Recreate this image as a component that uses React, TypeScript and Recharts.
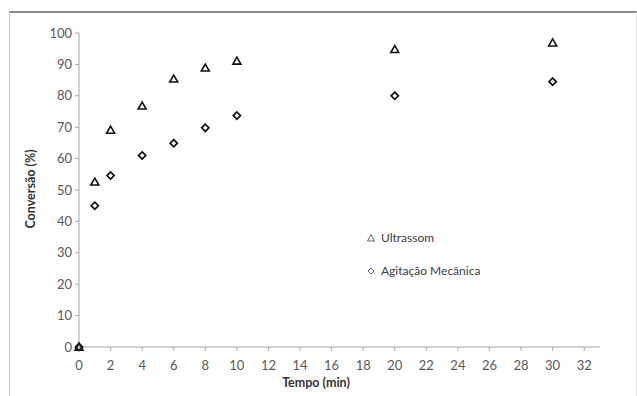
import { Legend, Scatter, ScatterChart, XAxis, YAxis } from "recharts";

const tempo = [0, 1, 2, 4, 6, 8, 10, 20, 30];
const ultrassom = [0, 52.6, 69.1, 76.8, 85.4, 88.9, 91.1, 94.8, 96.9];
const agitacao = [0, 45.0, 54.6, 61.0, 64.9, 69.8, 73.7, 80.0, 84.5];
const seriesNames = ["Ultrassom", "Agitação Mecânica"];
const xTicks = [0, 2, 4, 6, 8, 10, 12, 14, 16, 18, 20, 22, 24, 26, 28, 30, 32];
const yTicks = [0, 10, 20, 30, 40, 50, 60, 70, 80, 90, 100];

const ultraData = tempo.map((t, i) => ({ x: t, y: ultrassom[i] }));
const agitData = tempo.map((t, i) => ({ x: t, y: agitacao[i] }));

const FONT = "Lato, 'Open Sans', sans-serif";
const AXIS = "#a6a6a6";

function Triangle({ cx, cy }: { cx: number; cy: number }) {
  return (
    <path d={`M${cx},${cy - 3.8} L${cx + 4},${cy + 3.2} L${cx - 4},${cy + 3.2} Z`}
          fill="none" stroke="#111" strokeWidth={1.6} />
  );
}

function Diamond({ cx, cy }: { cx: number; cy: number }) {
  return (
    <path d={`M${cx},${cy - 3.6} L${cx + 3.6},${cy} L${cx},${cy + 3.6} L${cx - 3.6},${cy} Z`}
          fill="none" stroke="#111" strokeWidth={1.7} />
  );
}

function LegendBox({ payload }: any) {
  const items = [...(payload || [])].sort(
    (a: any, b: any) => seriesNames.indexOf(a.value) - seriesNames.indexOf(b.value));
  return (
    <div style={{ fontFamily: FONT, fontSize: 12, color: "#404040" }}>
      {items.map((e: any) => (
        <div key={e.value} style={{ display: "flex", alignItems: "center", height: 17, marginBottom: 16 }}>
          <svg width={10} height={10} style={{ marginRight: 5 }}>
            {e.value === seriesNames[0] ? (
              <path d="M5,1.5 L8.5,8 L1.5,8 Z" fill="none" stroke="#555" strokeWidth={0.9} />
            ) : (
              <path d="M5,2 L8,5 L5,8 L2,5 Z" fill="none" stroke="#555" strokeWidth={0.9} />
            )}
          </svg>
          <span>{e.value}</span>
        </div>
      ))}
    </div>
  );
}

export default function App() {
  return (
    <div style={{ position: "absolute", left: 0, top: 0, width: 637, height: 396, overflow: "hidden", background: "#fff" }}>
      <div style={{ position: "absolute", left: 9, top: 11, width: 626, height: 400,
                    borderTop: "2px solid #8c8c8c", borderLeft: "1px solid #c8c8c8", borderRight: "1px solid #e4e4e4" }} />
      <div style={{ position: "absolute", left: 0, top: 0 }}>
        <ScatterChart width={637} height={396} margin={{ top: 33, right: 37, left: 0, bottom: 0 }}
                      style={{ fontFamily: FONT }}>
          <XAxis type="number" dataKey="x" domain={[0, 33]} ticks={xTicks} height={49}
                 stroke={AXIS} tickSize={4} tickMargin={10}
                 tick={{ fill: "#595959", fontSize: 13 }}
                 label={{
                   content: () => (
                     <text x={316} y={387} textAnchor="middle" fontWeight="bold" fontSize={12.5} fill="#333">
                       Tempo (min)
                     </text>
                   ),
                 }} />
          <YAxis type="number" dataKey="y" domain={[0, 100]} ticks={yTicks} width={79}
                 stroke={AXIS} tickSize={4} tickMargin={3}
                 tick={{ fill: "#595959", fontSize: 13 }}
                 label={{
                   content: () => (
                     <text x={35} y={189} textAnchor="middle" fontWeight="bold" fontSize={12.5} fill="#333"
                           transform="rotate(-90 35 189)">
                       Conversão (%)
                     </text>
                   ),
                 }} />
          <Legend layout="horizontal" verticalAlign="middle" align="center"
                  wrapperStyle={{ left: 366, top: 229, width: 160 }} content={LegendBox} />
          <Scatter name={seriesNames[0]} data={ultraData} isAnimationActive={false}
                   shape={(p: any) => <Triangle cx={p.cx} cy={p.cy} />} />
          <Scatter name={seriesNames[1]} data={agitData} isAnimationActive={false}
                   shape={(p: any) => <Diamond cx={p.cx} cy={p.cy} />} />
        </ScatterChart>
      </div>
    </div>
  );
}
